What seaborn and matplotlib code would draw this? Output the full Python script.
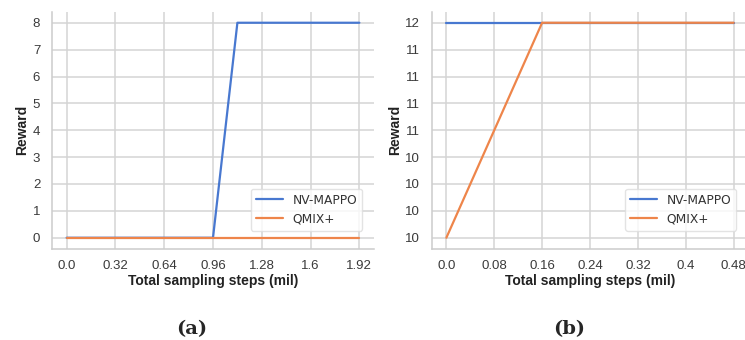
import numpy as np
import pandas as pd
import matplotlib
matplotlib.use("Agg")
import matplotlib.pyplot as plt
from matplotlib.ticker import MultipleLocator, FuncFormatter
import seaborn as sns

# ---- data ----
series_names = ["NV-MAPPO", "QMIX+"]

steps_a = [0.0, 0.16, 0.32, 0.48, 0.64, 0.80, 0.96, 1.12, 1.28, 1.44, 1.60, 1.76, 1.92]
nvmappo_a = [0, 0, 0, 0, 0, 0, 0, 8, 8, 8, 8, 8, 8]
qmix_a = [0, 0, 0, 0, 0, 0, 0, 0, 0, 0, 0, 0, 0]
xticks_a = [0.0, 0.32, 0.64, 0.96, 1.28, 1.6, 1.92]
xticklabels_a = ["0.0", "0.32", "0.64", "0.96", "1.28", "1.6", "1.92"]

steps_b = [0.0, 0.08, 0.16, 0.24, 0.32, 0.40, 0.48]
nvmappo_b = [12, 12, 12, 12, 12, 12, 12]
qmix_b = [10, 11, 12, 12, 12, 12, 12]
xticks_b = [0.0, 0.08, 0.16, 0.24, 0.32, 0.4, 0.48]
xticklabels_b = ["0.0", "0.08", "0.16", "0.24", "0.32", "0.4", "0.48"]

captions = ["(a)", "(b)"]


def long_df(steps, a, b):
    return pd.DataFrame({
        "steps": list(steps) * 2,
        "reward": list(a) + list(b),
        "method": [series_names[0]] * len(steps) + [series_names[1]] * len(steps),
    })


sns.set_theme(style="whitegrid")
plt.rcParams.update({
    "axes.edgecolor": "#cccccc",
    "grid.color": "#d4d4d4",
    "grid.linewidth": 1.1,
    "axes.linewidth": 1.1,
})
plt.rcParams["font.family"] = ["DejaVu Sans"]

palette = {series_names[0]: "#4878d0", series_names[1]: "#ee854a"}

fig = plt.figure(figsize=(7.45, 3.4), dpi=100)
ax_a = fig.add_axes([52 / 745, 91.5 / 340, 322 / 745, 236.5 / 340])
ax_b = fig.add_axes([432 / 745, 91.5 / 340, 316 / 745, 236.5 / 340])

panels = [
    (ax_a, long_df(steps_a, nvmappo_a, qmix_a), xticks_a, xticklabels_a),
    (ax_b, long_df(steps_b, nvmappo_b, qmix_b), xticks_b, xticklabels_b),
]

for ax, df, xt, xtl in panels:
    sns.lineplot(data=df, x="steps", y="reward", hue="method", palette=palette,
                 linewidth=1.6, ax=ax)
    sns.despine(ax=ax)
    ax.set_xticks(xt)
    ax.set_xticklabels(xtl)
    ax.tick_params(axis="both", labelsize=9.5, colors="#3a3a3a", length=4, pad=4.5)
    ax.set_xlabel("Total sampling steps (mil)", fontsize=10, fontweight="bold",
                  family=["Liberation Sans"], color="#222222", labelpad=1.5)
    ax.set_ylabel("Reward", fontsize=10, fontweight="bold",
                  family=["Liberation Sans"], color="#222222", labelpad=2.5)
    leg = ax.legend(loc="lower right", bbox_to_anchor=(0.963, 0.076),
                    borderaxespad=0, fontsize=8.8, frameon=True, title=None,
                    handlelength=2.2)
    for t in leg.get_texts():
        t.set_color("#333333")
    leg.get_frame().set_edgecolor("#dddddd")

ax_a.yaxis.set_major_locator(MultipleLocator(1))

ax_b.yaxis.set_major_locator(MultipleLocator(0.25))
ax_b.yaxis.set_major_formatter(FuncFormatter(lambda v, p: f"{int(round(v, 6))}"))

for ax in (ax_a, ax_b):
    for lab in ax.get_xticklabels() + ax.get_yticklabels():
        lab.set_family(["Liberation Sans"])

fig.text(191.5 / 745, 1 - 329 / 340, captions[0], ha="center", va="center",
         fontsize=14, fontweight="bold", family=["DejaVu Serif"])
fig.text(569 / 745, 1 - 329 / 340, captions[1], ha="center", va="center",
         fontsize=14, fontweight="bold", family=["DejaVu Serif"])

fig.savefig("out.png", dpi=100)
